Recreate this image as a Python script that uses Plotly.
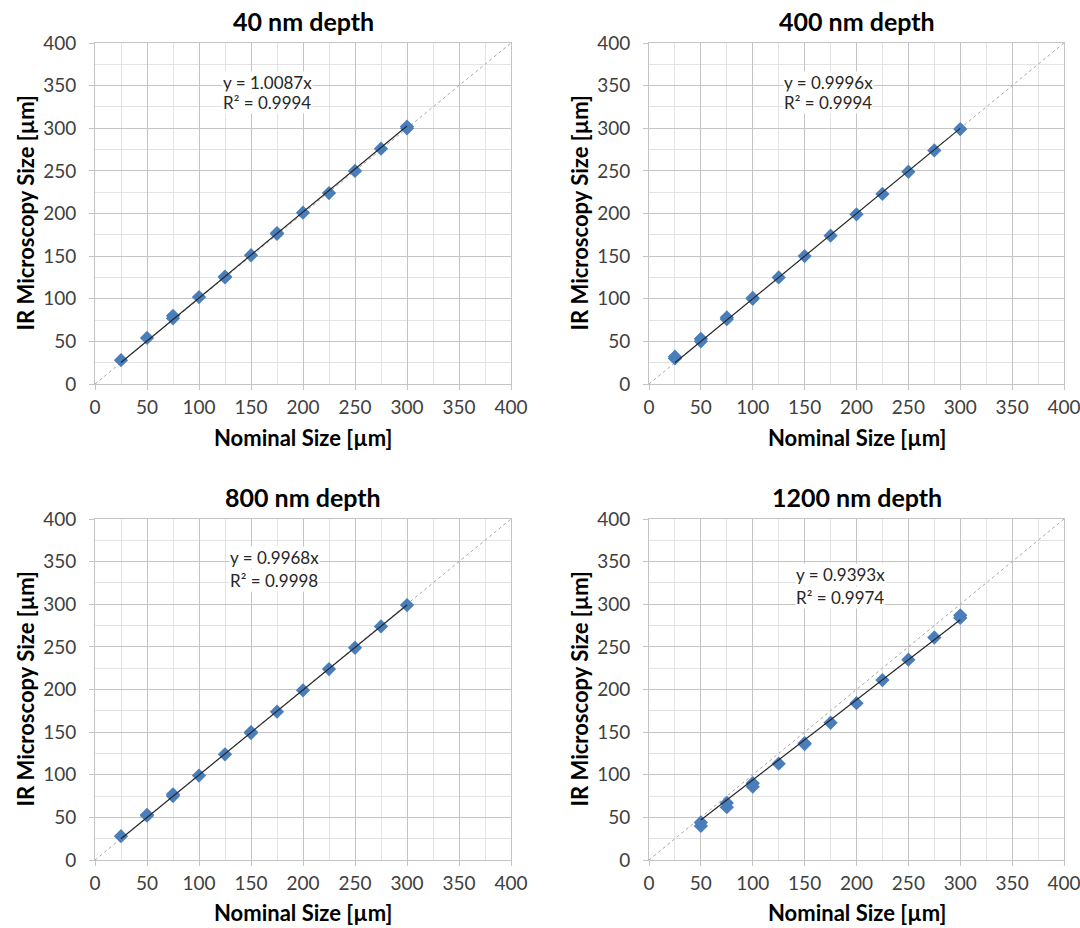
import plotly.graph_objects as go

titles = ["40 nm depth", "400 nm depth", "800 nm depth", "1200 nm depth"]
slopes = [1.0087, 0.9996, 0.9968, 0.9393]
r2 = [0.9994, 0.9994, 0.9998, 0.9974]

x40 = [25, 50, 75, 75, 100, 125, 125, 150, 175, 175, 200, 225, 250, 275, 300, 300]
y40 = [28, 54, 77, 80, 102, 125, 126, 151, 176, 177, 201, 224, 250, 276, 300, 302]
x400 = [25, 25, 50, 50, 75, 75, 100, 100, 125, 150, 175, 200, 225, 250, 275, 300]
y400 = [30, 32, 50, 53, 76, 78, 100, 101, 125, 150, 174, 199, 223, 249, 274, 299]
x800 = [25, 50, 50, 75, 75, 100, 125, 150, 150, 175, 200, 225, 250, 275, 300]
y800 = [28, 52, 53, 75, 77, 99, 124, 149, 150, 174, 199, 224, 249, 274, 299]
x1200 = [50, 50, 75, 75, 100, 100, 125, 150, 150, 175, 200, 225, 250, 275, 300, 300]
y1200 = [40, 44, 62, 67, 86, 90, 113, 136, 137, 161, 184, 211, 235, 261, 284, 287]

xs = [x40, x400, x800, x1200]
ys = [y40, y400, y800, y1200]
label_pos = [(122, 354, 330), (129, 354, 330), (129, 355, 328), (141, 335, 308)]

W, H = 1080, 928
xdoms = [[95 / W, 511 / W], [649 / W, 1064 / W]]
ydoms = [[1 - 384 / H, 1 - 43 / H], [1 - 860 / H, 1 - 519 / H]]
xtitle_y = [1 - 437 / H, 1 - 912 / H]
ytitle_x = [25 / W, 579 / W]

FONT = "Lato, Carlito, Open Sans, sans-serif"
GRID = "#c4c4c4"
fig = go.Figure()
annotations = []
for i in range(4):
    r, c = divmod(i, 2)
    n = i + 1
    xa = "x" if n == 1 else f"x{n}"
    ya = "y" if n == 1 else f"y{n}"
    fig.add_trace(go.Scatter(x=[0, 400], y=[0, 400], mode="lines", xaxis=xa, yaxis=ya,
                             line=dict(color="#a6a6a6", width=1, dash="dot"), showlegend=False,
                             hoverinfo="skip"))
    fig.add_trace(go.Scatter(x=xs[i], y=ys[i], mode="markers", xaxis=xa, yaxis=ya,
                             marker=dict(symbol="diamond", size=11, color="#4a7ebb"),
                             showlegend=False))
    x0, x1 = min(xs[i]), max(xs[i])
    fig.add_trace(go.Scatter(x=[x0, x1], y=[slopes[i] * x0, slopes[i] * x1], mode="lines",
                             xaxis=xa, yaxis=ya, line=dict(color="#262626", width=1.2),
                             showlegend=False, hoverinfo="skip"))
    common = dict(range=[0, 400], dtick=50, tick0=0,
                  showgrid=True, gridcolor=GRID, gridwidth=1,
                  minor=dict(dtick=25, showgrid=True, gridcolor="#e3e3e3", gridwidth=1),
                  zeroline=False, showline=True, linecolor=GRID, mirror=True,
                  ticks="outside", ticklen=5, tickcolor=GRID,
                  tickfont=dict(family=FONT, size=19, color="#404040"),
                  ticklabeloverflow="allow",
                  automargin=False, fixedrange=True)
    ax = dict(domain=xdoms[c], anchor=ya, ticklabelstandoff=1, **common)
    ay = dict(domain=ydoms[r], anchor=xa, ticklabelstandoff=9, **common)
    fig.layout["xaxis" if n == 1 else f"xaxis{n}"] = ax
    fig.layout["yaxis" if n == 1 else f"yaxis{n}"] = ay
    lx, ly1, ly2 = label_pos[i]
    annotations.append(dict(x=lx, y=ly1, xref=xa, yref=ya, text=f"y = {slopes[i]:.4f}x",
                            showarrow=False, xanchor="left", yanchor="middle", bgcolor="white",
                            borderpad=0,
                            font=dict(family=FONT, size=17, color="#262626")))
    annotations.append(dict(x=lx, y=ly2, xref=xa, yref=ya, text=f"R² = {r2[i]:.4f}",
                            showarrow=False, xanchor="left", yanchor="middle", bgcolor="white",
                            borderpad=0,
                            font=dict(family=FONT, size=17, color="#262626")))
    annotations.append(dict(x=(xdoms[c][0] + xdoms[c][1]) / 2, y=ydoms[r][1] + 22 / H,
                            xref="paper", yref="paper", text=f"<b>{titles[i]}</b>",
                            showarrow=False, xanchor="center", yanchor="middle",
                            font=dict(family=FONT, size=25, color="#000")))
    annotations.append(dict(x=(xdoms[c][0] + xdoms[c][1]) / 2, y=xtitle_y[r],
                            xref="paper", yref="paper", text="<b>Nominal Size [µm]</b>",
                            showarrow=False, xanchor="center", yanchor="middle",
                            font=dict(family=FONT, size=22, color="#000")))
    annotations.append(dict(x=ytitle_x[c], y=(ydoms[r][0] + ydoms[r][1]) / 2,
                            xref="paper", yref="paper", text="<b>IR Microscopy Size [µm]</b>",
                            showarrow=False, xanchor="center", yanchor="middle", textangle=-90,
                            font=dict(family=FONT, size=22, color="#000")))

fig.update_layout(width=W, height=H, margin=dict(l=0, r=0, t=0, b=0),
                  paper_bgcolor="white", plot_bgcolor="white", annotations=annotations)
fig.write_html("out.html", config={"displayModeBar": False},
               post_script="document.body.style.margin='0';document.body.style.overflow='hidden';")
